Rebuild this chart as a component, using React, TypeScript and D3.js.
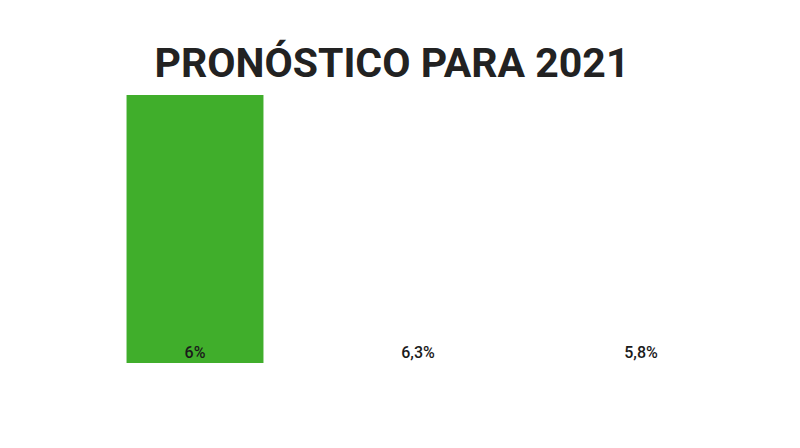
import React from "react";
import * as d3 from "d3";

const categories = ["A", "B", "C"];
const values = [6, 6.3, 5.8];
const labels = ["6%", "6,3%", "5,8%"];
const barColors = ["#40ae2b", "#ffffff", "#ffffff"];
const title = "PRONÓSTICO PARA 2021";

const W = 800;
const H = 448;

export default function App() {
  const x = d3.scaleBand<string>().domain(categories).range([83.5, 752.5]).paddingInner(0.386).paddingOuter(0.193);
  const y = d3.scaleLinear().domain([0, 6.3]).range([363, 81.6]);
  return (
    <svg width={W} height={H} style={{ position: "absolute", left: 0, top: 0, background: "#fff" }}>
      <rect width={W} height={H} fill="#fff" />
      <text x={392} y={77} textAnchor="middle" fontFamily="Roboto" fontWeight={700} fontSize={41} fill="#222">
        {title}
      </text>
      {categories.map((c, i) => (
        <rect key={c} x={x(c)} y={y(values[i])} width={x.bandwidth()} height={y(0) - y(values[i])} fill={barColors[i]} />
      ))}
      {categories.map((c, i) => (
        <text key={c + "l"} x={(x(c) as number) + x.bandwidth() / 2} y={358} textAnchor="middle" fontFamily="Roboto" fontWeight={500} fontSize={16} fill="#1a1a1a">
          {labels[i]}
        </text>
      ))}
    </svg>
  );
}
